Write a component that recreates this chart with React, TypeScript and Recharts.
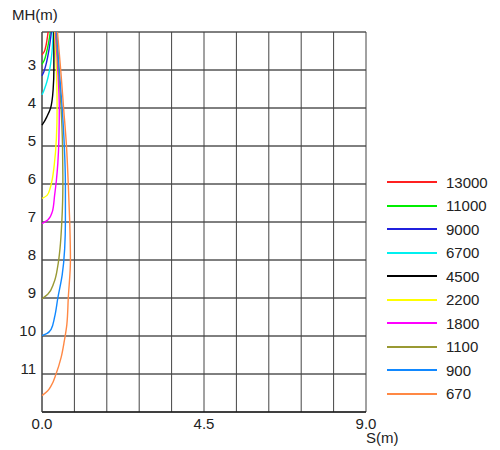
import { ScatterChart, Scatter, XAxis, YAxis, CartesianGrid, Legend } from 'recharts';

// S(m) against MH(m), one curve per discharge value
const seriesNames = ['13000', '11000', '9000', '6700', '4500', '2200', '1800', '1100', '900', '670'];
const seriesColors = ['#ff2020', '#00ee00', '#2020dd', '#00f0f0', '#000000', '#ffff00', '#ff00ff', '#999933', '#1188ff', '#ff8844'];

const q13000 = [
  { mh: 2.0, s: 0.17 }, { mh: 2.2, s: 0.14 }, { mh: 2.4, s: 0.1 }, { mh: 2.52, s: 0.06 }, { mh: 2.6, s: 0 },
];
const q11000 = [
  { mh: 2.0, s: 0.23 }, { mh: 2.3, s: 0.18 }, { mh: 2.56, s: 0.12 }, { mh: 2.75, s: 0.06 }, { mh: 2.85, s: 0 },
];
const q9000 = [
  { mh: 2.0, s: 0.26 }, { mh: 2.43, s: 0.2 }, { mh: 2.86, s: 0.11 }, { mh: 3.05, s: 0.05 }, { mh: 3.15, s: 0 },
];
const q6700 = [
  { mh: 2.0, s: 0.31 }, { mh: 2.5, s: 0.28 }, { mh: 2.95, s: 0.22 }, { mh: 3.39, s: 0.11 }, { mh: 3.57, s: 0.04 }, { mh: 3.65, s: 0 },
];
const q4500 = [
  { mh: 2.0, s: 0.33 }, { mh: 2.5, s: 0.33 }, { mh: 3.0, s: 0.33 }, { mh: 3.5, s: 0.31 }, { mh: 3.8, s: 0.28 },
  { mh: 4.0, s: 0.24 }, { mh: 4.22, s: 0.14 }, { mh: 4.38, s: 0.05 }, { mh: 4.45, s: 0 },
];
const q2200 = [
  { mh: 2.0, s: 0.35 }, { mh: 3.0, s: 0.4 }, { mh: 4.0, s: 0.42 }, { mh: 4.8, s: 0.4 }, { mh: 5.5, s: 0.34 },
  { mh: 5.9, s: 0.28 }, { mh: 6.1, s: 0.23 }, { mh: 6.3, s: 0.14 }, { mh: 6.38, s: 0 },
];
const q1800 = [
  { mh: 2.0, s: 0.37 }, { mh: 3.0, s: 0.44 }, { mh: 4.0, s: 0.48 }, { mh: 4.8, s: 0.47 }, { mh: 5.45, s: 0.44 },
  { mh: 5.9, s: 0.4 }, { mh: 6.3, s: 0.35 }, { mh: 6.72, s: 0.29 }, { mh: 6.95, s: 0.16 }, { mh: 7.04, s: 0 },
];
const q1100 = [
  { mh: 2.0, s: 0.39 }, { mh: 3.0, s: 0.46 }, { mh: 4.0, s: 0.53 }, { mh: 5.0, s: 0.57 }, { mh: 6.0, s: 0.58 },
  { mh: 7.0, s: 0.55 }, { mh: 7.7, s: 0.5 }, { mh: 8.15, s: 0.44 }, { mh: 8.6, s: 0.33 }, { mh: 8.9, s: 0.16 }, { mh: 9.02, s: 0 },
];
const q900 = [
  { mh: 2.0, s: 0.41 }, { mh: 3.0, s: 0.48 }, { mh: 4.0, s: 0.56 }, { mh: 5.0, s: 0.62 }, { mh: 6.0, s: 0.65 },
  { mh: 7.0, s: 0.65 }, { mh: 7.7, s: 0.63 }, { mh: 8.4, s: 0.56 }, { mh: 9.0, s: 0.44 }, { mh: 9.5, s: 0.35 },
  { mh: 9.83, s: 0.25 }, { mh: 9.94, s: 0.13 }, { mh: 9.99, s: 0 },
];
const q670 = [
  { mh: 2.0, s: 0.43 }, { mh: 3.0, s: 0.52 }, { mh: 4.0, s: 0.6 }, { mh: 5.0, s: 0.68 }, { mh: 6.0, s: 0.73 },
  { mh: 7.0, s: 0.77 }, { mh: 8.0, s: 0.79 }, { mh: 9.0, s: 0.73 }, { mh: 9.7, s: 0.69 }, { mh: 10.13, s: 0.62 },
  { mh: 10.57, s: 0.53 }, { mh: 11.0, s: 0.39 }, { mh: 11.3, s: 0.26 }, { mh: 11.44, s: 0.16 }, { mh: 11.57, s: 0 },
];
const allSeries = [q13000, q11000, q9000, q6700, q4500, q2200, q1800, q1100, q900, q670];

const xTicks = [0, 0.9, 1.8, 2.7, 3.6, 4.5, 5.4, 6.3, 7.2, 8.1, 9.0];
const xTickLabels = ['0.0', '', '', '', '', '4.5', '', '', '', '', '9.0'];
const yTicks = [2, 3, 4, 5, 6, 7, 8, 9, 10, 11, 12];
const yTickLabels = ['', '3', '4', '5', '6', '7', '8', '9', '10', '11', ''];

const font = "'Liberation Sans', Arial, Helvetica, sans-serif";
const textColor = '#222';

const YTick = (props: any) => {
  const { x, y, payload } = props;
  const label = yTickLabels[yTicks.indexOf(payload.value)] ?? '';
  return (
    <text x={x} y={y - 5} dy="0.355em" textAnchor="end" fontSize={15} fontFamily={font} fill={textColor}>
      {label}
    </text>
  );
};

const LegendBox = () => (
  <div style={{ fontFamily: font, fontSize: 15, color: textColor }}>
    {seriesNames.map((name, i) => (
      <div key={name} style={{ height: 23.5, display: 'flex', alignItems: 'center' }}>
        <svg width={50} height={4} style={{ marginRight: 9 }}>
          <line x1={0} y1={2} x2={50} y2={2} stroke={seriesColors[i]} strokeWidth={2} />
        </svg>
        <span>{name}</span>
      </div>
    ))}
  </div>
);

export default function App() {
  return (
    <div style={{ position: 'absolute', left: 0, top: 0 }}>
      <ScatterChart width={500} height={450} margin={{ top: 32, right: 134, bottom: 8, left: 12 }}>
        <CartesianGrid horizontal vertical={false} stroke="#000" />
        <CartesianGrid horizontal={false} vertical stroke="#444" />
        <XAxis
          type="number"
          dataKey="s"
          domain={[0, 9]}
          ticks={xTicks}
          tickFormatter={(v: number) => xTickLabels[xTicks.indexOf(v)] ?? ''}
          tickLine={false}
          tickSize={0}
          tickMargin={6}
          height={30}
          axisLine={{ stroke: '#000' }}
          tick={{ fontSize: 15, fontFamily: font, fill: textColor }}
          interval={0}
          label={{
            content: () => (
              <text x={366} y={438} dy="0.355em" fontSize={15} fontFamily={font} fill={textColor}>
                S(m)
              </text>
            ),
          }}
        />
        <YAxis
          type="number"
          dataKey="mh"
          domain={[2, 12]}
          reversed
          ticks={yTicks}
          tick={<YTick />}
          tickLine={false}
          tickSize={0}
          tickMargin={6}
          width={30}
          interval={0}
          axisLine={{ stroke: '#444' }}
          label={{
            content: () => (
              <text x={12} y={15} dy="0.355em" fontSize={15} fontFamily={font} fill={textColor}>
                MH(m)
              </text>
            ),
          }}
        />
        <Legend
          layout="vertical"
          align="center"
          verticalAlign="middle"
          wrapperStyle={{ left: 387, top: 170.5, width: 113 }}
          content={() => <LegendBox />}
        />
        {allSeries.map((pts, i) => (
          <Scatter
            key={seriesNames[i]}
            name={seriesNames[i]}
            data={pts}
            fill={seriesColors[i]}
            line={{ stroke: seriesColors[i], strokeWidth: 1.4 }}
            lineJointType="monotoneY"
            shape={() => <g />}
            isAnimationActive={false}
          />
        ))}
      </ScatterChart>
    </div>
  );
}
